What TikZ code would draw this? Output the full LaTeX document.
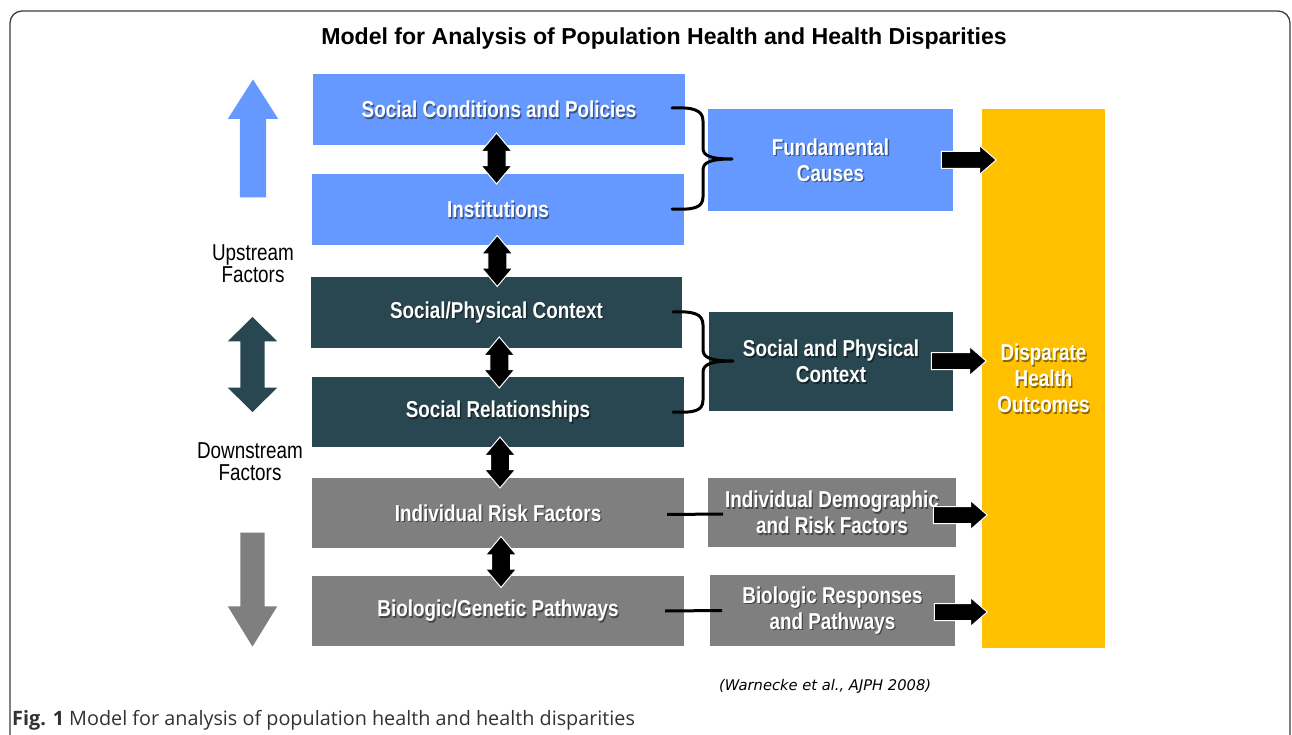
\documentclass[tikz,border=0pt]{standalone}
\usepackage{fontspec}
\setmainfont{Liberation Sans}
\newfontfamily\narrowsans[FakeStretch=0.82]{Liberation Sans}
\newfontfamily\captionsans{Open Sans}
\newfontfamily\citesans{DejaVu Sans}
\usetikzlibrary{shapes.arrows,calc}

\definecolor{upblue}{RGB}{102,153,255}
\definecolor{ctxteal}{RGB}{40,71,80}
\definecolor{riskgray}{RGB}{127,127,127}
\definecolor{outgold}{RGB}{255,192,0}
\definecolor{framegray}{RGB}{60,60,60}
\definecolor{captiongray}{RGB}{50,50,50}

% white label with a soft drop shadow
\newcommand\shadowlabel[3]{%
  \node[lbl, text=black, opacity=0.45] (#1-sh) at ($(#2)+(1.3,1.3)$) {#3};
  \node[lbl] (#1) at (#2) {#3};}

\begin{document}
\begin{tikzpicture}[x=1pt,y=-1pt,
  panel/.style={rectangle, inner sep=0pt, outer sep=0pt, draw=none},
  lbl/.style={font=\narrowsans\bfseries\fontsize{23}{26}\selectfont,
              text=white, align=center, inner sep=0pt},
  sidelbl/.style={font=\narrowsans\fontsize{23}{22}\selectfont,
              text=black, align=center, inner sep=0pt},
  linkarrow/.style={double arrow, rotate=90, fill=black, draw=white,
              line width=1pt, inner xsep=0pt, inner ysep=9pt,
              minimum height=51pt, double arrow head extend=6pt,
              double arrow tip angle=80},
  outarrow/.style={single arrow, anchor=tip, fill=black, draw=white,
              line width=1pt, inner xsep=0pt, inner ysep=8pt,
              single arrow head extend=6pt, single arrow tip angle=82},
  brace/.style={line width=3pt, draw=black, line cap=round, line join=round},
  tie/.style={line width=3pt, draw=black}]

\useasboundingbox (0,0) rectangle (1292,735);

% outer frame (its lower edge runs below the page)
\draw[line width=1.3pt, framegray, rounded corners=12pt]
  (10,745) |- (1290,11) -- (1290,745);

% title
\node[font=\bfseries\fontsize{23.1}{26}\selectfont, anchor=base, inner sep=0pt]
  (title) at (664,44.5) {Model for Analysis of Population Health and Health Disparities};

% level boxes
\node[panel, fill=upblue,   minimum width=372, minimum height=71] (sc)   at (499,109.5) {};
\node[panel, fill=upblue,   minimum width=372, minimum height=71] (inst) at (498,209.5) {};
\node[panel, fill=ctxteal,  minimum width=371, minimum height=71] (spc)  at (496.5,312.5) {};
\node[panel, fill=ctxteal,  minimum width=372, minimum height=70] (srel) at (498,412) {};
\node[panel, fill=riskgray, minimum width=372, minimum height=70] (irf)  at (498,513) {};
\node[panel, fill=riskgray, minimum width=372, minimum height=70] (bgp)  at (498,611) {};

% grouped boxes and outcome column
\node[panel, fill=upblue,   minimum width=245, minimum height=102] (fc)  at (830.5,160) {};
\node[panel, fill=ctxteal,  minimum width=244, minimum height=99]  (spx) at (831,361.5) {};
\node[panel, fill=riskgray, minimum width=248, minimum height=69]  (idr) at (832,512.5) {};
\node[panel, fill=riskgray, minimum width=245, minimum height=71]  (brp) at (832.5,610.5) {};
\node[panel, fill=outgold,  minimum width=123, minimum height=539] (dho) at (1043.5,378.5) {};

% box labels
\shadowlabel{sc-t}{sc}{Social Conditions and Policies}
\shadowlabel{inst-t}{inst}{Institutions}
\shadowlabel{spc-t}{spc}{Social/Physical Context}
\shadowlabel{srel-t}{srel}{Social Relationships}
\shadowlabel{irf-t}{irf}{Individual Risk Factors}
\shadowlabel{bgp-t}{bgp}{Biologic/Genetic Pathways}
\shadowlabel{fc-t}{fc}{Fundamental\\Causes}
\shadowlabel{spx-t}{spx}{Social and Physical\\Context}
\shadowlabel{idr-t}{idr}{Individual Demographic\\and Risk Factors}
\shadowlabel{brp-t}{brp}{Biologic Responses\\and Pathways}
\shadowlabel{dho-t}{dho}{Disparate\\Health\\Outcomes}

% upstream / downstream scale
\node[single arrow, rotate=90, anchor=tip, fill=upblue, inner xsep=0pt, inner ysep=13pt,
      minimum height=118pt, single arrow head extend=12pt, single arrow tip angle=65]
  (upa) at (253,79) {};
\node[double arrow, rotate=90, fill=ctxteal, inner xsep=0pt, inner ysep=12pt,
      minimum height=95pt, double arrow head extend=12.5pt, double arrow tip angle=91]
  (mida) at (252.5,364.5) {};
\node[single arrow, rotate=-90, anchor=tip, fill=riskgray, inner xsep=0pt, inner ysep=12pt,
      minimum height=114pt, single arrow head extend=12.5pt, single arrow tip angle=63]
  (downa) at (252.5,647) {};
\node[sidelbl] (upl) at (253,264) {Upstream\\Factors};
\node[sidelbl] (downl) at (250,462) {Downstream\\Factors};

% links between neighbouring levels
\node[linkarrow] (l1) at ($(sc.south)!0.5!(inst.north)+(-2,-1)$) {};
\node[linkarrow] (l2) at ($(inst.south)!0.5!(spc.north)$) {};
\node[linkarrow] (l3) at ($(spc.south)!0.5!(srel.north)+(2,0)$) {};
\node[linkarrow] (l4) at ($(srel.south)!0.5!(irf.north)+(2,0)$) {};
\node[linkarrow] (l5) at ($(irf.south)!0.5!(bgp.north)+(3,0)$) {};

% braces grouping the upper levels
\coordinate (b1top) at (672,108);
\coordinate (b1tip) at (732,159);
\coordinate (b1bot) at (672,209);
\draw[brace] (b1top) .. controls (693,107) and (703,110) .. (703,121)
  -- (703,148) .. controls (703,156) and (711,159) .. (b1tip)
  .. controls (711,159) and (703,162) .. (703,170)
  -- (703,197) .. controls (703,208) and (693,210) .. (b1bot);
\coordinate (b2top) at (673,312);
\coordinate (b2tip) at (733,361);
\coordinate (b2bot) at (673,412);
\draw[brace] (b2top) .. controls (694,311) and (703,314) .. (703,325)
  -- (703,350) .. controls (703,358) and (712,361) .. (b2tip)
  .. controls (712,361) and (703,364) .. (703,372)
  -- (703,400) .. controls (703,411) and (694,413) .. (b2bot);

% one-to-one ties for the lower levels
\draw[tie] ($(irf.east)+(-17,1.5)$) -- ($(idr.west)+(15,1.5)$);
\draw[tie] ($(bgp.east)+(-19,0)$) -- ($(brp.west)+(12,0)$);

% contributions to the outcomes
\node[outarrow, minimum height=55pt] (o1) at ($(dho.west |- fc.east)+(15,0)$) {};
\node[outarrow, minimum height=55pt] (o2) at ($(dho.west |- spx.east)+(5,-0.5)$) {};
\node[outarrow, minimum height=54pt] (o3) at ($(dho.west |- idr.east)+(6,2.5)$) {};
\node[outarrow, minimum height=53pt] (o4) at ($(dho.west |- brp.east)+(6,1.5)$) {};

% source and caption
\node[font=\citesans\itshape\fontsize{14.7}{17}\selectfont, anchor=base west, inner sep=0pt]
  (src) at (719,690) {(Warnecke et al., AJPH 2008)};
\node[font=\captionsans\fontsize{19.8}{23}\selectfont, text=captiongray, anchor=base west, inner sep=0pt]
  (cap) at (12,725) {\textbf{Fig. 1} Model for analysis of population health and health disparities};

\end{tikzpicture}
\end{document}
